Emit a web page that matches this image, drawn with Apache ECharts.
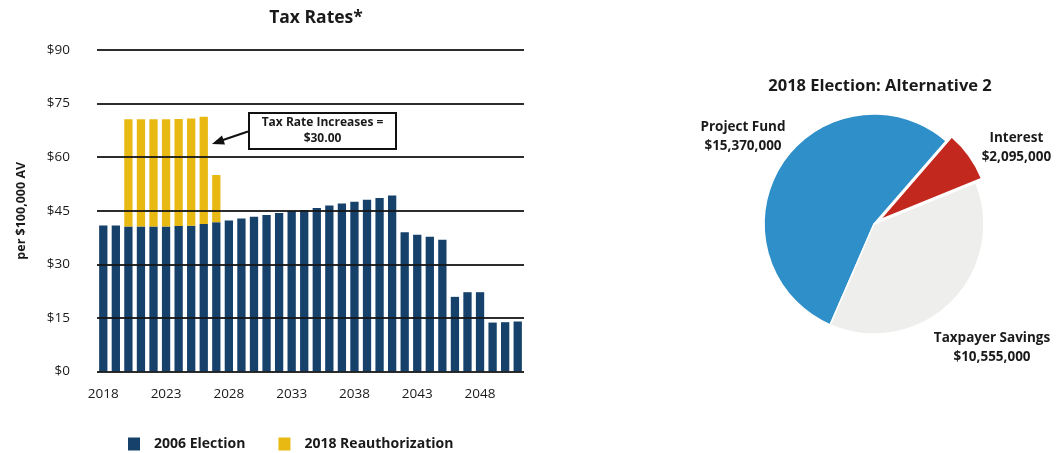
<!DOCTYPE html>
<html>
<head>
<meta charset="utf-8">
<script src="https://cdn.jsdelivr.net/npm/echarts@6/dist/echarts.min.js"></script>
<style>
  html, body { margin: 0; padding: 0; background: #ffffff; }
  #chart { width: 1060px; height: 453px; }
</style>
</head>
<body>
<div id="chart"></div>
<script>
// Tax rate per $100,000 assessed value, by year
const years = [
  2018, 2019, 2020, 2021, 2022, 2023, 2024, 2025, 2026, 2027,
  2028, 2029, 2030, 2031, 2032, 2033, 2034, 2035, 2036, 2037,
  2038, 2039, 2040, 2041, 2042, 2043, 2044, 2045, 2046, 2047,
  2048, 2049, 2050, 2051
];
const election2006 = [
  40.9, 40.9, 40.6, 40.6, 40.6, 40.6, 40.7, 40.8, 41.3, 41.8,
  42.3, 42.8, 43.3, 43.8, 44.4, 44.9, 45.2, 45.8, 46.5, 47.0,
  47.5, 48.1, 48.6, 49.3, 39.0, 38.3, 37.7, 36.9, 20.9, 22.2,
  22.2, 13.7, 13.8, 14.0
];
const rateIncrease = 30.00;
const reauthorization2018 = [
  null, null, rateIncrease, rateIncrease, rateIncrease, rateIncrease, rateIncrease, rateIncrease, rateIncrease, 13.2,
  null, null, null, null, null, null, null, null, null, null,
  null, null, null, null, null, null, null, null, null, null,
  null, null, null, null
];
const yTicks = [0, 15, 30, 45, 60, 75, 90];

// Alternative 2 funding breakdown
const pieNames = ['Project Fund', 'Interest', 'Taxpayer Savings'];
const pieValues = [15370000, 2095000, 10555000];
const pieColors = ['#2f8fc9', '#c3281f', '#eeeeec'];

const FONT = '"Open Sans", Lato, sans-serif';
const INK = '#1a1a1a';

const chart = echarts.init(document.getElementById('chart'), null, { renderer: 'canvas' });

// fixed label anchor points around the pie
const pieLabelSpots = [
  { x: 743, y: 137 },
  { x: 1004, y: 137 },
  { x: 992, y: 348 }
];

const money = v => '$' + v.toLocaleString('en-US');

chart.setOption({
  animation: false,
  backgroundColor: '#ffffff',
  title: [
    {
      text: 'Tax Rates*',
      left: 311, top: 4, textAlign: 'center',
      textStyle: { fontFamily: FONT, fontWeight: 'bold', fontSize: 17.5, color: INK }
    },
    {
      text: '2018 Election: Alternative 2',
      left: 875, top: 73, textAlign: 'center',
      textStyle: { fontFamily: FONT, fontWeight: 'bold', fontSize: 16.5, color: INK }
    }
  ],
  legend: {
    data: ['2006 Election', '2018 Reauthorization'],
    left: 123, top: 432,
    icon: 'rect', itemWidth: 12, itemHeight: 13, itemGap: 33,
    textStyle: { fontFamily: FONT, fontWeight: 'bold', fontSize: 14, color: INK, padding: [0, 0, 0, 9] }
  },
  grid: { left: 97, top: 50, width: 427, height: 321.5 },
  xAxis: {
    type: 'category',
    data: years,
    axisLine: { show: false },
    axisTick: { show: false },
    axisLabel: {
      interval: 4, margin: 16,
      fontFamily: FONT, fontSize: 13.5, color: INK
    }
  },
  yAxis: {
    type: 'value',
    min: yTicks[0], max: yTicks[yTicks.length - 1], interval: 15,
    z: 5,
    name: 'per $100,000 AV',
    nameLocation: 'middle', nameRotate: 90, nameGap: 69,
    nameTextStyle: { fontFamily: FONT, fontWeight: 'bold', fontSize: 12.5, color: INK },
    axisLine: { show: false },
    axisTick: { show: false },
    axisLabel: {
      margin: 27, fontFamily: FONT, fontSize: 13.5, color: INK,
      formatter: v => '$' + v
    },
    splitLine: { lineStyle: { color: '#161616', width: 2, opacity: 0.9 } }
  },
  series: [
    {
      name: '2006 Election',
      type: 'bar',
      stack: 'rate',
      data: election2006,
      barWidth: '66%',
      itemStyle: { color: '#15416a' }
    },
    {
      name: '2018 Reauthorization',
      type: 'bar',
      stack: 'rate',
      data: reauthorization2018,
      barWidth: '66%',
      itemStyle: { color: '#e8b912' }
    },
    {
      name: 'Alternative 2',
      type: 'pie',
      center: [874, 224],
      radius: 110,
      startAngle: 246.5,
      clockwise: true,
      selectedMode: 'single',
      selectedOffset: 7,
      silent: true,
      itemStyle: { borderColor: '#ffffff', borderWidth: 1.5 },
      label: {
        show: true,
        position: 'outside',
        overflow: 'none',
        formatter: p => p.name + '\n' + money(p.value),
        fontFamily: FONT, fontWeight: 'bold', fontSize: 13.5, lineHeight: 19,
        color: INK, align: 'center'
      },
      labelLine: { show: false },
      labelLayout: p => ({
        x: pieLabelSpots[p.dataIndex].x,
        y: pieLabelSpots[p.dataIndex].y,
        align: 'center', verticalAlign: 'middle'
      }),
      data: pieNames.map((n, i) => ({
        name: n,
        value: pieValues[i],
        selected: i === 1,
        itemStyle: { color: pieColors[i] }
      }))
    }
  ],
  graphic: [
    // callout box for the rate increase
    {
      type: 'rect',
      shape: { x: 249, y: 113, width: 147, height: 36 },
      style: { fill: '#ffffff', stroke: '#111111', lineWidth: 2 },
      z: 10
    },
    {
      type: 'text',
      x: 322.5, y: 131,
      style: {
        text: 'Tax Rate Increases =\n$' + rateIncrease.toFixed(2),
        fontFamily: FONT, fontWeight: 'bold', fontSize: 12, lineHeight: 16,
        fill: INK, align: 'center', verticalAlign: 'middle'
      },
      z: 11
    },
    {
      type: 'line',
      shape: { x1: 248, y1: 131.5, x2: 220, y2: 141 },
      style: { stroke: '#111111', lineWidth: 2.2 },
      z: 10
    },
    {
      type: 'polygon',
      shape: { points: [[212, 144], [222, 135.5], [225, 144.5]] },
      style: { fill: '#111111' },
      z: 10
    }
  ]
});
</script>
</body>
</html>
